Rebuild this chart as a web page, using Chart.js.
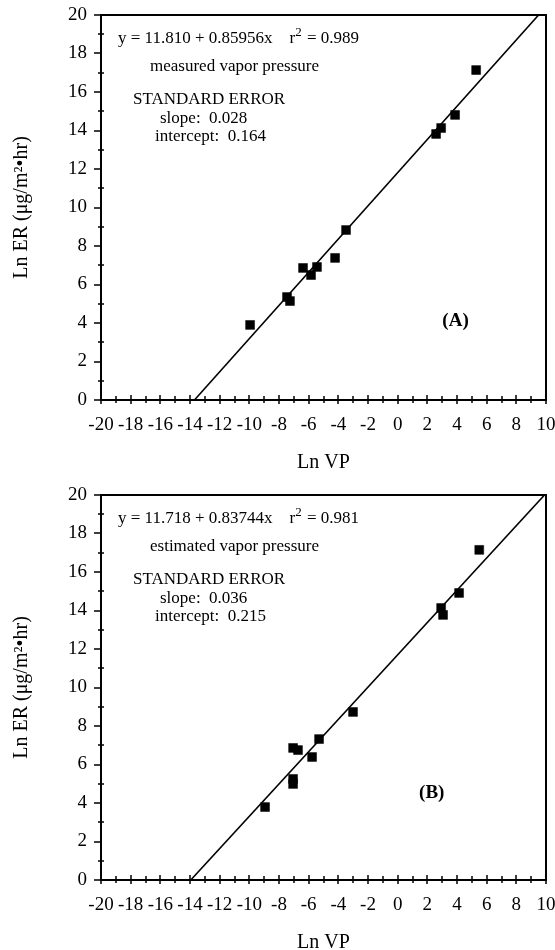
<!DOCTYPE html>
<html lang="en">
<head>
<meta charset="UTF-8">
<title>Ln ER vs Ln VP</title>
<script src="https://cdn.jsdelivr.net/npm/chart.js"></script>
<style>
    body { margin: 0; background: #fff; }
    canvas { position: absolute; left: 0; }
    #chartA { top: 0; }
    #chartB { top: 475px; }
</style>
</head>
<body>
<canvas id="chartA" width="555" height="475"></canvas>
<canvas id="chartB" width="555" height="475"></canvas>
<script>
// axis ticks
const xTickValues = [-20, -18, -16, -14, -12, -10, -8, -6, -4, -2, 0, 2, 4, 6, 8, 10];
const yTickValues = [0, 2, 4, 6, 8, 10, 12, 14, 16, 18, 20];

// (A) measured vapor pressure
const lnVpA = [-9.95, -7.46, -7.26, -6.38, -5.84, -5.44, -4.22, -3.48, 2.59, 2.93, 3.87, 5.29];
const lnErA = [3.9, 5.35, 5.14, 6.86, 6.49, 6.91, 7.38, 8.83, 13.82, 14.13, 14.81, 17.14];
const fitXA = [-13.7, 9.5];
const fitYA = [0, 20];
const notesA = ['y = 11.810 + 0.85956x    r^2 = 0.989', 'measured vapor pressure', 'STANDARD ERROR', 'slope:  0.028', 'intercept:  0.164'];

// (B) estimated vapor pressure
const lnVpB = [-8.94, -7.05, -7.05, -7.05, -6.72, -5.77, -5.3, -3.01, 2.93, 3.06, 4.14, 5.5];
const lnErB = [3.79, 5.25, 4.99, 6.86, 6.75, 6.39, 7.32, 8.73, 14.13, 13.77, 14.91, 17.15];
const fitXB = [-13.95, 9.9];
const fitYB = [0, 20];
const notesB = ['y = 11.718 + 0.83744x    r^2 = 0.981', 'estimated vapor pressure', 'STANDARD ERROR', 'slope:  0.036', 'intercept:  0.215'];

const serif = '"Liberation Serif", "Times New Roman", serif';
// text offsets from the plot's top-left corner
const noteOffsets = [[17, 24], [49, 52], [32, 85], [59, 104], [54, 122]];

// writes text where "^2" becomes a raised 2
function drawNote(ctx, text, x, y) {
    const parts = text.split('^2');
    let cx = x;
    parts.forEach((p, i) => {
        ctx.font = '17px ' + serif;
        ctx.fillText(p, cx, y);
        cx += ctx.measureText(p).width;
        if (i < parts.length - 1) {
            ctx.font = '13px ' + serif;
            ctx.fillText('2', cx, y - 6);
            cx += ctx.measureText('2').width + 1;
        }
    });
}

function makeChart(id, xs, ys, fitX, fitY, notes, tag, tagPos, padTop, xHeight, titlePad) {
    const points = xs.map((x, i) => ({ x: x, y: ys[i] }));
    const line = fitX.map((x, i) => ({ x: x, y: fitY[i] }));

    const marks = {
        id: 'marks',
        afterDatasetsDraw(chart) {
            const { ctx, chartArea: a, scales: { x, y } } = chart;
            ctx.save();
            ctx.strokeStyle = '#000';
            ctx.lineWidth = 2;
            ctx.strokeRect(a.left, a.top, a.right - a.left, a.bottom - a.top);
            ctx.lineWidth = 1.5;
            ctx.beginPath();
            for (let v = -20; v <= 10; v++) {
                const px = Math.round(x.getPixelForValue(v));
                const major = v % 2 === 0;
                ctx.moveTo(px, a.bottom + (major ? 4 : 3));
                ctx.lineTo(px, a.bottom - (major ? 5 : 4));
            }
            for (let v = 0; v <= 20; v++) {
                const py = Math.round(y.getPixelForValue(v));
                if (v % 2 === 0) {
                    ctx.moveTo(a.left - 7, py);
                    ctx.lineTo(a.left + 1, py);
                } else {
                    ctx.moveTo(a.left - 3, py);
                    ctx.lineTo(a.left + 3, py);
                }
            }
            ctx.stroke();
            ctx.restore();
        },
        afterDraw(chart) {
            const { ctx, chartArea: a, scales: { x, y } } = chart;
            ctx.save();
            ctx.fillStyle = '#000';
            ctx.textBaseline = 'middle';
            ctx.textAlign = 'left';
            notes.forEach((t, i) => {
                drawNote(ctx, t, a.left + noteOffsets[i][0], a.top + noteOffsets[i][1]);
            });
            ctx.font = 'bold 19px ' + serif;
            ctx.textAlign = 'center';
            ctx.fillText(tag, x.getPixelForValue(tagPos[0]), y.getPixelForValue(tagPos[1]));
            ctx.restore();
        }
    };

    return new Chart(document.getElementById(id), {
        type: 'scatter',
        data: {
            datasets: [
                {
                    data: points,
                    pointStyle: 'rect',
                    pointRadius: 6.3,
                    backgroundColor: '#000',
                    borderColor: '#000',
                    borderWidth: 0.5
                },
                {
                    type: 'line',
                    data: line,
                    borderColor: '#000',
                    borderWidth: 1.6,
                    pointRadius: 0,
                    fill: false
                }
            ]
        },
        options: {
            responsive: false,
            animation: false,
            layout: { padding: { top: padTop, right: 9, left: 0, bottom: 0 } },
            plugins: { legend: { display: false }, tooltip: { enabled: false } },
            scales: {
                x: {
                    type: 'linear',
                    min: -20,
                    max: 10,
                    afterBuildTicks: s => { s.ticks = xTickValues.map(v => ({ value: v })); },
                    ticks: {
                        color: '#000',
                        font: { family: serif, size: 19 },
                        padding: 14,
                        autoSkip: false,
                        maxRotation: 0,
                        callback: v => String(v)
                    },
                    grid: { display: false, drawTicks: false },
                    border: { display: false },
                    title: {
                        display: true,
                        text: 'Ln VP',
                        color: '#000',
                        font: { family: serif, size: 20 },
                        padding: { top: 0, bottom: titlePad }
                    },
                    afterFit: s => { s.height = xHeight; s.paddingLeft = 0; s.paddingRight = 0; }
                },
                y: {
                    min: 0,
                    max: 20,
                    afterBuildTicks: s => { s.ticks = yTickValues.map(v => ({ value: v })); },
                    ticks: {
                        color: '#000',
                        font: { family: serif, size: 19 },
                        padding: 14,
                        callback: v => String(v)
                    },
                    grid: { display: false, drawTicks: false },
                    border: { display: false },
                    title: {
                        display: true,
                        text: 'Ln ER (μg/m²•hr)',
                        color: '#000',
                        font: { family: serif, size: 20 },
                        padding: { top: 10, bottom: 0 }
                    },
                    afterFit: s => { s.width = 101; s.paddingTop = 0; s.paddingBottom = 0; }
                }
            }
        },
        plugins: [marks]
    });
}

makeChart('chartA', lnVpA, lnErA, fitXA, fitYA, notesA, '(A)', [3.9, 4.1], 15, 75, 0);
makeChart('chartB', lnVpB, lnErB, fitXB, fitYB, notesB, '(B)', [2.3, 4.5], 20, 70, -5);
</script>
</body>
</html>
